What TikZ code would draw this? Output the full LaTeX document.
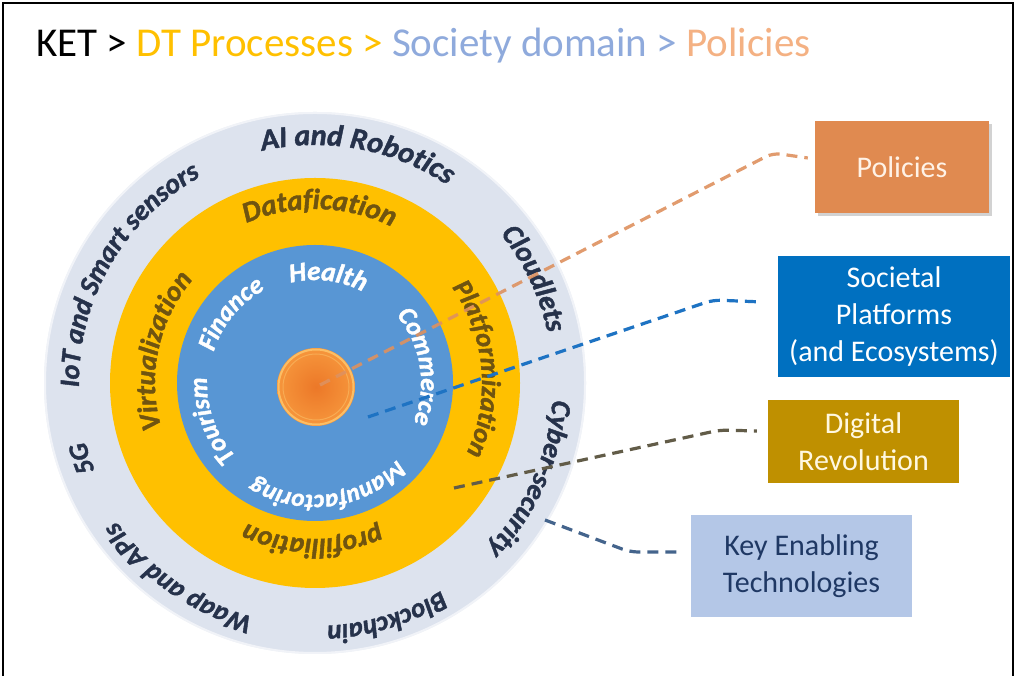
\documentclass[tikz,border=0pt]{standalone}
\usepackage{fontspec}
\setmainfont{Carlito}
\newfontfamily\ringfont{Carlito}[BoldItalicFeatures={FakeBold=1.5}]
\usetikzlibrary{decorations.text,shadows,calc}
\definecolor{ketc}{RGB}{38,50,75}
\definecolor{dtc}{RGB}{112,84,16}
\definecolor{ringgray}{RGB}{221,227,238}
\definecolor{ringyel}{RGB}{255,192,0}
\definecolor{ringblue}{RGB}{88,150,212}
\definecolor{core}{RGB}{240,128,42}
\definecolor{corerim}{RGB}{252,190,100}
\definecolor{polc}{RGB}{224,138,80}
\definecolor{socc}{RGB}{0,112,192}
\definecolor{digc}{RGB}{191,144,0}
\definecolor{ketbox}{RGB}{180,199,231}
\definecolor{ketfg}{RGB}{31,56,100}
\definecolor{tYel}{RGB}{255,192,0}
\definecolor{tBlue}{RGB}{143,170,220}
\definecolor{tOra}{RGB}{244,177,131}
\definecolor{lPol}{RGB}{222,145,95}
\definecolor{lSoc}{RGB}{30,115,195}
\definecolor{lDig}{RGB}{98,92,72}
\definecolor{lKet}{RGB}{68,100,140}
\definecolor{polfg}{RGB}{255,242,230}
\definecolor{digfg}{RGB}{255,248,225}
\newcommand\ringtext[5]{%
  \path[decorate,decoration={text along path,text align=center,text color=#4,
    text={|\ringfont\fontsize{#3}{#3}\selectfont\bfseries\itshape|#5}}]
    ($(C)+(#2+90:#1)$) arc[start angle=#2+90,end angle=#2-90,radius=#1pt];}
\tikzset{
  conn/.style={line width=3.2pt, dash pattern=on 11pt off 7pt, rounded corners=8pt},
  box/.style={inner sep=0pt, align=center, font=\fontsize{30}{37}\selectfont},
}
\begin{document}
\begin{tikzpicture}[x=1pt,y=1pt]
\useasboundingbox (0,0) rectangle (1016,676);
\fill[white] (0,0) rectangle (1016,676);
\draw[line width=1.5pt] (3,0) -- (3,673) -- (1013,673) -- (1013,0);

\node[anchor=base west, inner sep=0pt, font=\fontsize{41}{48}\selectfont] (title) at (36,619)
  {KET > \textcolor{tYel}{DT Processes >} \textcolor{tBlue}{Society domain >} \textcolor{tOra}{Policies}};

\coordinate (C) at (315,293);
\coordinate (O) at (316,289);
\fill[ringgray] (C) circle[radius=271pt];
\draw[white, line width=2pt, opacity=0.6] (C) circle[radius=270pt];
\fill[ringyel] (C) circle[radius=205pt];
\fill[ringblue] (C) circle[radius=138pt];
\shade[inner color={rgb,255:red,236;green,120;blue,40}, outer color={rgb,255:red,246;green,150;blue,60}] (O) circle[radius=39pt];
\draw[corerim, line width=2pt] (O) circle[radius=37.5pt];
\draw[corerim!70!core, line width=1pt] (O) circle[radius=33pt];

% outer ring texts
\ringtext{236}{150}{28}{ketc}{IoT and Smart sensors}
\ringtext{238}{79.5}{30}{ketc}{AI and Robotics}
\ringtext{238}{25.5}{29}{ketc}{Cloudlets}
\ringtext{238}{-24}{28}{ketc}{Cyber-security}
\ringtext{243}{-73}{27}{ketc}{Blockchain}
\ringtext{242}{235}{27}{ketc}{Waap and APIs}
\ringtext{237}{198}{27}{ketc}{5G}
% yellow ring texts
\ringtext{174}{88.5}{29}{dtc}{Datafication}
\ringtext{167}{5}{27}{dtc}{Platformization}
\ringtext{160}{168}{28}{dtc}{Virtualization}
\ringtext{156}{-91}{28}{dtc}{profilliation}
% blue texts
\ringtext{103}{83}{27}{white}{Health}
\ringtext{106}{140.5}{26}{white}{Finance}
\ringtext{106}{9}{26}{white}{Commerce}
\ringtext{108}{200}{26}{white}{Tourism}
\ringtext{112}{-83}{25}{white}{Manufactoring}

% boxes
\node[box, fill=polc, text=polfg, minimum width=174pt, minimum height=92pt,
  drop shadow={opacity=0.35, shadow xshift=3pt, shadow yshift=-3pt}] (pol) at (902,509) {Policies};
\node[box, fill=socc, text=white, minimum width=232pt, minimum height=121pt] (soc) at (894,359.5)
  {Societal\\Platforms\\(and Ecosystems)};
\node[box, fill=digc, text=digfg, minimum width=191pt, minimum height=83pt] (dig) at (863.5,234.5)
  {Digital\\Revolution};
\node[box, fill=ketbox, text=ketfg, minimum width=221pt, minimum height=102pt] (ket) at (801.5,110)
  {Key Enabling\\Technologies};

% connectors
\coordinate (pS) at (320,291);
\coordinate (pB) at (773,523);
\coordinate (sS) at (368,259);
\coordinate (sB) at (713,376);
\coordinate (dS) at (454,188);
\coordinate (dB) at (720,246);
\coordinate (kS) at (545,156);
\coordinate (kB) at (630,124);
\draw[conn, lPol, opacity=0.9] (pS) -- (pB) -- ([xshift=-7pt,yshift=9pt]pol.west);
\draw[conn, lSoc] (sS) -- (sB) -- ([xshift=-15pt,yshift=14.5pt]soc.west);
\draw[conn, lDig] (dS) -- (dB) -- ([xshift=-11pt,yshift=10.5pt]dig.west);
\draw[conn, lKet] (kS) -- (kB) -- ([xshift=-14pt,yshift=14pt]ket.west);
\end{tikzpicture}
\end{document}
